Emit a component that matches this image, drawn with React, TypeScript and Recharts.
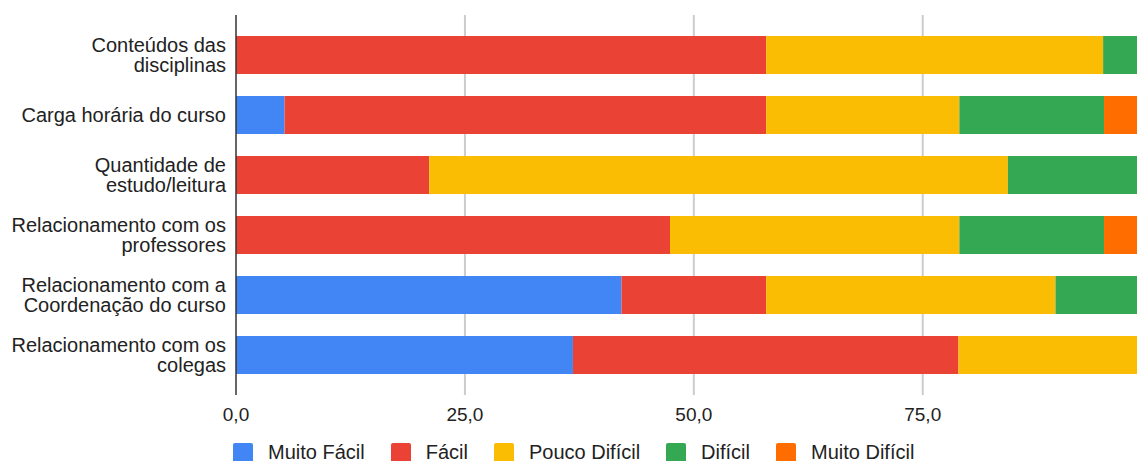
import React from 'react';
import { BarChart, Bar, XAxis, YAxis, CartesianGrid } from 'recharts';

const categories = [
  'Conteúdos das disciplinas',
  'Carga horária do curso',
  'Quantidade de estudo/leitura',
  'Relacionamento com os professores',
  'Relacionamento com a Coordenação do curso',
  'Relacionamento com os colegas',
];

// percentuais
const muitoFacil = [0, 5.3, 0, 0, 42.1, 36.8];
const facil = [57.9, 52.6, 21.1, 47.4, 15.8, 42.1];
const poucoDificil = [36.8, 21.1, 63.2, 31.6, 31.6, 21.1];
const dificil = [5.3, 15.8, 15.8, 15.8, 10.5, 0];
const muitoDificil = [0, 5.3, 0, 5.3, 0, 0];

const xTicks = [0, 25, 50, 75];
const xMax = 98.4;

const series = [
  { key: 'muitoFacil', name: 'Muito Fácil', color: '#4285F4' },
  { key: 'facil', name: 'Fácil', color: '#EA4335' },
  { key: 'poucoDificil', name: 'Pouco Difícil', color: '#FBBC04' },
  { key: 'dificil', name: 'Difícil', color: '#34A853' },
  { key: 'muitoDificil', name: 'Muito Difícil', color: '#FF6D01' },
];

const data = categories.map((name, i) => ({
  name,
  muitoFacil: muitoFacil[i],
  facil: facil[i],
  poucoDificil: poucoDificil[i],
  dificil: dificil[i],
  muitoDificil: muitoDificil[i],
}));

const font = '"Liberation Sans", Arial, sans-serif';
const fontSize = 20;
const lineH = 20;
const maxLabelWidth = 220;

// quebra o texto do rótulo em linhas que caibam na largura
let ctx: CanvasRenderingContext2D | null = null;
const wrap = (text: string) => {
  if (!ctx) {
    ctx = document.createElement('canvas').getContext('2d');
    if (ctx) ctx.font = `${fontSize}px ${font}`;
  }
  const words = text.split(' ');
  const lines: string[] = [];
  let cur = '';
  words.forEach((w) => {
    const next = cur ? cur + ' ' + w : w;
    const width = ctx ? ctx.measureText(next).width : next.length * 10;
    if (width > maxLabelWidth && cur) {
      lines.push(cur);
      cur = w;
    } else {
      cur = next;
    }
  });
  if (cur) lines.push(cur);
  return lines;
};

const CategoryTick = (props: any) => {
  const { x, y, payload } = props;
  const lines = wrap(payload.value);
  const startY = y - ((lines.length - 1) * lineH) / 2;
  return (
    <text x={x} y={startY} textAnchor="end" fill="#222" style={{ fontFamily: font, fontSize }}>
      {lines.map((l, i) => (
        <tspan key={i} x={x} y={startY + i * lineH} dy="0.36em">
          {l}
        </tspan>
      ))}
    </text>
  );
};

const fmt = (v: number) => v.toFixed(1).replace('.', ',');

const gridLines = ({ offset }: any) =>
  xTicks.slice(1).map((t) => offset.left + (t / xMax) * offset.width);

const App: React.FC = () => {
  return (
    <div style={{ position: 'absolute', left: 0, top: 0, width: 1137, height: 461, background: '#fff', overflow: 'hidden' }}>
      <BarChart
        width={1137}
        height={461}
        data={data}
        layout="vertical"
        margin={{ top: 15, right: 0, left: 0, bottom: 36 }}
      >
        <CartesianGrid
          horizontal={false}
          stroke="#ccc"
          strokeWidth={2}
          verticalCoordinatesGenerator={gridLines}
        />
        <XAxis
          type="number"
          domain={[0, xMax]}
          allowDataOverflow
          ticks={xTicks}
          tickFormatter={fmt}
          axisLine={false}
          tickLine={false}
          height={30}
          tickMargin={7}
          tick={{ fill: '#222', fontFamily: font, fontSize: 19 }}
        />
        <YAxis
          type="category"
          dataKey="name"
          width={236}
          padding={{ top: 10, bottom: 10 }}
          axisLine={{ stroke: '#333', strokeWidth: 1.5 }}
          tickLine={false}
          tickMargin={4}
          tick={<CategoryTick />}
          interval={0}
        />
        {series.map((s) => (
          <Bar
            key={s.key}
            dataKey={s.key}
            name={s.name}
            stackId="a"
            fill={s.color}
            barSize={38}
            isAnimationActive={false}
          />
        ))}
      </BarChart>
      <div
        style={{
          position: 'absolute',
          left: 233,
          top: 443,
          display: 'flex',
          fontFamily: font,
          fontSize,
          color: '#222',
        }}
      >
        {series.map((s, i) => (
          <div
            key={s.key}
            style={{ display: 'flex', alignItems: 'flex-start', marginRight: i < series.length - 1 ? 26 : 0 }}
          >
            <span style={{ width: 20, height: 20, background: s.color, borderRadius: 2, marginRight: 15 }} />
            <span style={{ lineHeight: '18px' }}>{s.name}</span>
          </div>
        ))}
      </div>
    </div>
  );
};

export default App;
